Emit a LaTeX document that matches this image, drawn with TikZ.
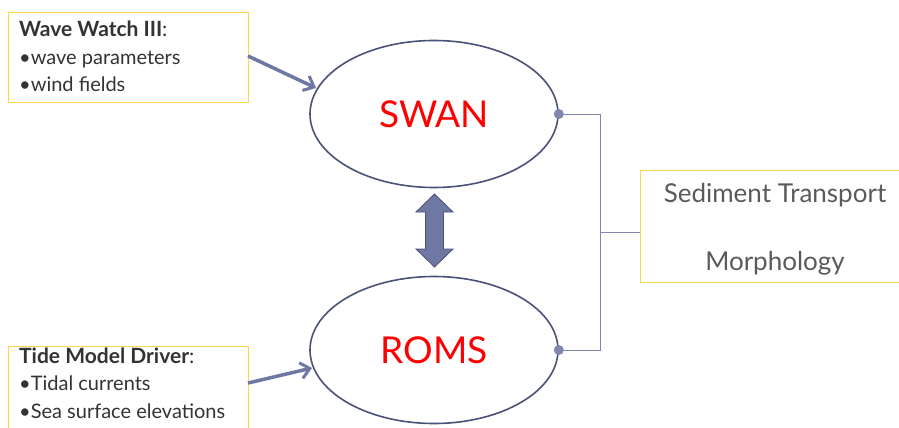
\documentclass[tikz,border=0pt]{standalone}
\usepackage{fontspec}
\setmainfont{Lato}
\usetikzlibrary{arrows.meta,shapes.geometric}
\definecolor{boxyellow}{HTML}{FFD54A}
\definecolor{slate}{HTML}{6F78A3}
\definecolor{slatedark}{HTML}{4A5177}
\definecolor{thinline}{HTML}{7F87B0}
\definecolor{txtgray}{HTML}{333333}
\definecolor{txtgray2}{HTML}{5A5A5A}
\begin{document}
\begin{tikzpicture}[x=1pt,y=-1pt,
  srcbox/.style={draw=boxyellow, line width=1.2pt, anchor=north west, minimum width=240pt, inner sep=0pt},
  srctext/.style={anchor=base west, text=txtgray, inner sep=0pt, font=\fontsize{20}{24}\selectfont},
  model/.style={ellipse, draw=slatedark, line width=1.6pt, minimum width=248pt, minimum height=147pt, text=red, font=\fontsize{37}{40}\selectfont},
  outtext/.style={anchor=base, text=txtgray2, inner sep=0pt, font=\fontsize{26}{30}\selectfont},
  feed/.style={draw=slate, line width=3.5pt, -{Straight Barb[length=9pt,width=16pt,line width=3pt]}},
  link/.style={draw=thinline, line width=0.8pt},
  dotc/.style={circle, fill=thinline, inner sep=0pt, minimum size=10pt}
]
\useasboundingbox (0,0) rectangle (899,428);
% source boxes
\node[srcbox, minimum height=90pt] (wwbox) at (8,12) {};
\node[srctext] (ww1) at (19,37) {\fontsize{21}{24}\selectfont\textbf{Wave Watch III}:};
\node[srctext] (ww2) at (19,64) {•wave parameters};
\node[srctext] (ww3) at (19,91) {•wind fields};
\node[srcbox, minimum height=100pt] (tmbox) at (8,346) {};
\node[srctext] (tm1) at (19,363) {\fontsize{21}{24}\selectfont\textbf{Tide Model Driver}:};
\node[srctext] (tm2) at (19,390) {•Tidal currents};
\node[srctext] (tm3) at (19,418) {•Sea surface elevations};
% models
\node[model] (swan) at (434,114) {SWAN};
\node[model] (roms) at (434,350) {ROMS};
% feed arrows
\coordinate (wwout) at (248,56);
\coordinate (swanin) at (316,88);
\coordinate (tmout) at (248,383);
\coordinate (romsin) at (312,368);
\draw[feed] (wwout) -- (swanin);
\draw[feed] (tmout) -- (romsin);
% double arrow between models
\filldraw[fill=slate, draw=slatedark, line width=0.8pt, line join=miter]
  (434.5,194) -- (453,212) -- (443.5,212) -- (443.5,249) -- (453,249) -- (434.5,267)
  -- (416,249) -- (425.5,249) -- (425.5,212) -- (416,212) -- cycle;
% output box
\node[draw=boxyellow, line width=1.2pt, anchor=north west, minimum width=280pt, minimum height=112pt, inner sep=0pt] (outbox) at (640,170) {};
\node[outtext] (sed) at (775,202) {Sediment Transport};
\node[outtext] (morph) at (775,270) {Morphology};
% connector
\coordinate (junction) at (600,232);
\draw[link] (swan.east) -| (junction);
\draw[link] (roms.east) -| (junction);
\draw[link] (junction) -- (outbox.west |- junction);
\node[dotc] (sdot) at (swan.east) {};
\node[dotc] (rdot) at (roms.east) {};
\end{tikzpicture}
\end{document}
